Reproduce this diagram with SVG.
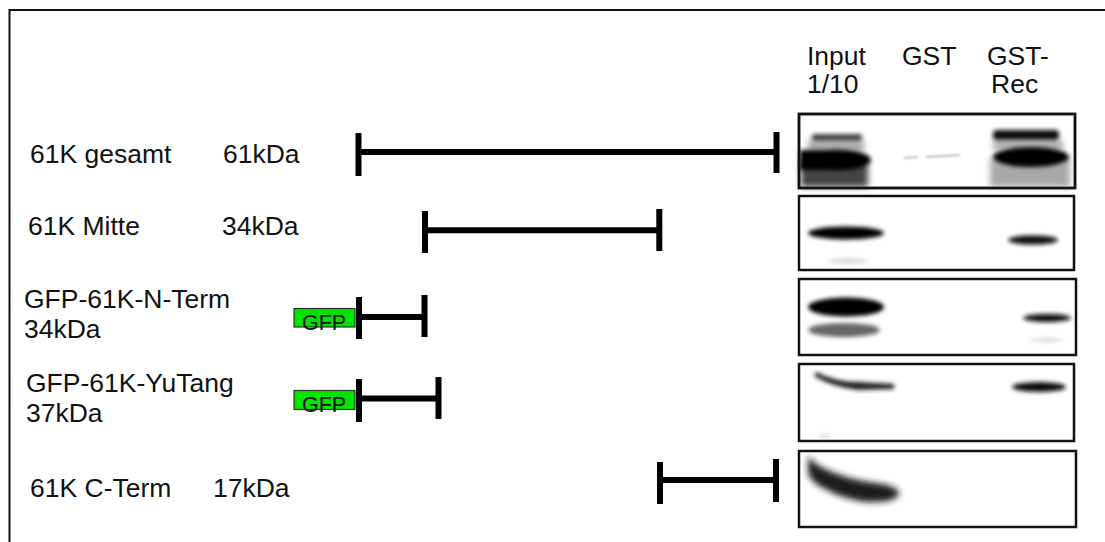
<svg xmlns="http://www.w3.org/2000/svg" width="1105" height="542" viewBox="0 0 1105 542">
<defs>
<style>
.t{font-family:"Liberation Sans",Arial,sans-serif;font-size:26.5px;fill:#111}
.g{font-family:"Liberation Sans",Arial,sans-serif;font-size:21.5px;fill:#111}
.bar{stroke:#000;stroke-width:6;fill:none}
.gel{fill:#fff;stroke:#111;stroke-width:2.5}
.frame{fill:none;stroke:#111;stroke-width:2.5}
.gfp{fill:#00e400;stroke:#333;stroke-width:1.2}
</style>
<filter id="b1" x="-30%" y="-100%" width="160%" height="300%"><feGaussianBlur stdDeviation="2.2"/></filter>
<filter id="b2" x="-30%" y="-100%" width="160%" height="300%"><feGaussianBlur stdDeviation="3"/></filter>
<filter id="b3" x="-30%" y="-100%" width="160%" height="300%"><feGaussianBlur stdDeviation="1.2"/></filter>
</defs>
<rect width="1105" height="542" fill="#fff"/>
<path d="M9.5,542 V10 H1105" fill="none" stroke="#111" stroke-width="2"/>

<g id="header">
<text class="t" x="807" y="65">Input</text>
<text class="t" x="807" y="93">1/10</text>
<text class="t" x="902" y="65">GST</text>
<text class="t" x="987" y="65">GST-</text>
<text class="t" x="991" y="93">Rec</text>
</g>

<g id="row-gesamt">
<text class="t" x="30" y="163">61K gesamt</text>
<text class="t" x="223" y="163">61kDa</text>
<path class="bar" d="M358.5,133 V176 M358.5,152 H776.5 M776.5,132 V173"/>
<g id="blot-gesamt">
<rect class="gel" x="799" y="114" width="276" height="74"/>
<g filter="url(#b2)">
<rect x="801" y="162" width="67" height="25" fill="#444"/>
<rect x="990" y="158" width="80" height="29" fill="#a8a8a8"/>
<rect x="808" y="140" width="56" height="12" fill="#aaa"/>
<rect x="993" y="140" width="70" height="10" fill="#aaa"/>
</g>
<g filter="url(#b1)">
<rect x="812" y="134" width="50" height="7" rx="3" fill="#444"/>
<ellipse cx="836" cy="160" rx="35" ry="10.5" fill="#000"/>
<rect x="800" y="150" width="30" height="20" fill="#000"/>
<rect x="993" y="130" width="66" height="10" rx="4" fill="#111"/>
<ellipse cx="1031" cy="157" rx="38" ry="10" fill="#000"/>
</g>
<path d="M904,158 L918,157 M926,157 L960,155" stroke="#aaa" stroke-width="1.5" filter="url(#b3)"/>
<rect class="frame" x="799" y="114" width="276" height="74"/>
</g>
</g>

<g id="row-mitte">
<text class="t" x="28" y="235">61K Mitte</text>
<text class="t" x="222" y="235">34kDa</text>
<path class="bar" d="M425,211 V253 M425,230.3 H659.3 M659.3,209 V251"/>
<g id="blot-mitte">
<rect class="gel" x="799" y="196" width="275" height="74"/>
<g filter="url(#b1)">
<ellipse cx="846" cy="233" rx="38" ry="6.5" fill="#000"/>
<ellipse cx="1033" cy="240" rx="25" ry="4.5" fill="#111"/>
<ellipse cx="848" cy="261" rx="20" ry="1.5" fill="#bbb"/>
</g>
</g>
</g>

<g id="row-nterm">
<text class="t" x="24" y="308">GFP-61K-N-Term</text>
<text class="t" x="24" y="338">34kDa</text>
<rect class="gfp" x="294" y="308.5" width="61" height="18.5"/>
<text class="g" x="302" y="330">GFP</text>
<path class="bar" d="M359,297 V339 M359,317 H424.5 M424.5,295 V337"/>
<g id="blot-nterm">
<rect class="gel" x="799" y="279" width="277" height="76"/>
<g filter="url(#b1)">
<ellipse cx="846" cy="307" rx="38" ry="9.5" fill="#000"/>
<ellipse cx="844" cy="330" rx="36" ry="7" fill="#666"/>
<ellipse cx="1047" cy="318" rx="24" ry="4" fill="#111"/>
<ellipse cx="1046" cy="340" rx="17" ry="1.2" fill="#bbb"/>
</g>
</g>
</g>

<g id="row-yutang">
<text class="t" x="26" y="392">GFP-61K-YuTang</text>
<text class="t" x="26" y="422">37kDa</text>
<rect class="gfp" x="294" y="390.5" width="61" height="19"/>
<text class="g" x="302" y="412">GFP</text>
<path class="bar" d="M359,379 V422 M359,398.5 H438.5 M438.5,377 V419"/>
<g id="blot-yutang">
<rect class="gel" x="799" y="364" width="275" height="77"/>
<g filter="url(#b1)">
<path d="M816,372 Q835,382 860,382 L894,384 L894,389 L858,390 Q832,387 814,376 Z" fill="#222"/>
<ellipse cx="1039" cy="387" rx="27" ry="5" fill="#111"/>
<ellipse cx="825" cy="436" rx="6" ry="1.5" fill="#ccc"/>
</g>
</g>
</g>

<g id="row-cterm">
<text class="t" x="30" y="497">61K C-Term</text>
<text class="t" x="213" y="497">17kDa</text>
<path class="bar" d="M660,462 V504 M660,480 H776 M776,459 V502"/>
<g id="blot-cterm">
<rect class="gel" x="799" y="451" width="277" height="76"/>
<g filter="url(#b2)">
<path d="M808,456 Q814,465 832,472 Q852,480 875,483 Q899,486 899,494 Q896,503 866,502 Q843,499 825,489 Q808,481 808,470 Z" fill="#1a1a1a"/>
</g>
</g>
</g>
</svg>
